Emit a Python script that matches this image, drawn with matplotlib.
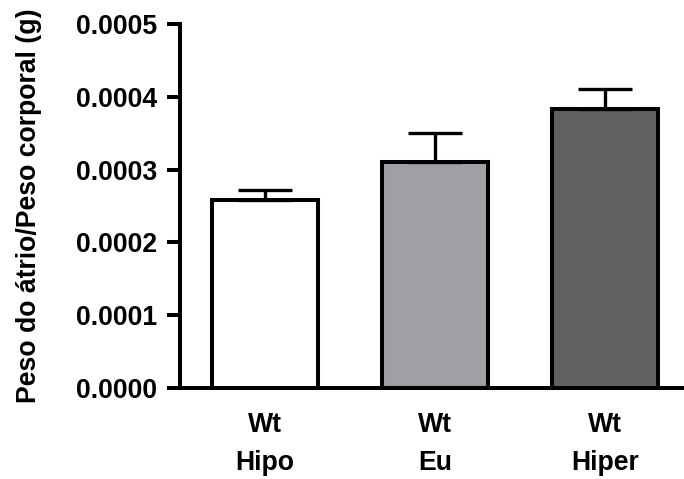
import matplotlib
matplotlib.use("Agg")
import matplotlib.pyplot as plt

# Data
groups = ["Wt\nHipo", "Wt\nEu", "Wt\nHiper"]
means = [0.000258, 0.000310, 0.000383]
sem = [0.000014, 0.000040, 0.000028]
colors = ["#ffffff", "#a19fa4", "#616161"]
yticks = [0.0, 0.0001, 0.0002, 0.0003, 0.0004, 0.0005]

plt.rcParams["font.family"] = ["Liberation Sans", "DejaVu Sans"]
plt.rcParams["font.weight"] = "bold"

fig = plt.figure(figsize=(6.84, 4.79), dpi=100)
ax = fig.add_axes([180 / 684, 91 / 479, 504 / 684, 364 / 479])

x = list(range(len(groups)))
ax.bar(x, means, width=0.62, color=colors, edgecolor="black", linewidth=2.9, zorder=2)
ax.errorbar(x, means, yerr=[[0] * len(sem), sem], fmt="none", ecolor="black",
            elinewidth=2.4, capsize=19.5, capthick=2.4, zorder=3)

ax.set_xlim(-0.5, 2.465)
ax.set_ylim(0, 0.0005)
ax.set_yticks(yticks)
ax.set_yticklabels([f"{v:.4f}" for v in yticks], fontsize=19.2, fontweight="bold")
ax.set_xticks(x)
ax.set_xticklabels(groups, fontsize=19.2, fontweight="bold", linespacing=1.6)

for side in ("top", "right"):
    ax.spines[side].set_visible(False)
for side in ("left", "bottom"):
    ax.spines[side].set_linewidth(2.9)

ax.tick_params(axis="y", length=9.5, width=2.9, pad=7)
ax.tick_params(axis="x", length=0, pad=17)

ax.set_ylabel("Peso do átrio/Peso corporal (g)", fontsize=19.2, fontweight="bold")
ax.yaxis.set_label_coords(-0.274, 0.5)

fig.savefig("out.png", dpi=100)
